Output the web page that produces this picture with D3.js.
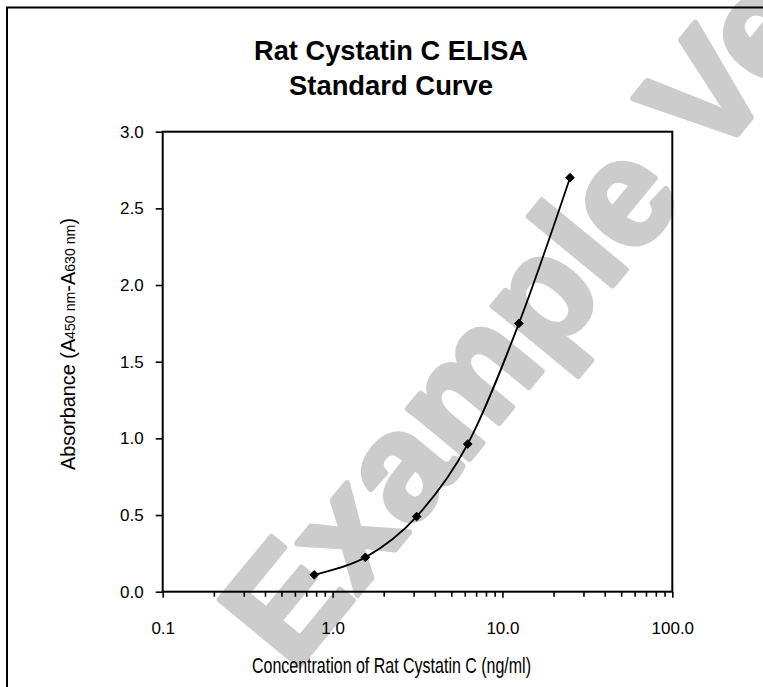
<!DOCTYPE html>
<html>
<head>
<meta charset="utf-8">
<script src="https://cdn.jsdelivr.net/npm/d3@7"></script>
<style>
  body { margin: 0; background: #fff; }
  text { font-family: "Liberation Sans", Arial, sans-serif; fill: #000; }
</style>
</head>
<body>
<div id="chart"></div>
<script>
//data
let concentrations = [0.78, 1.56, 3.125, 6.25, 12.5, 25];
let absorbances = [0.11, 0.224, 0.49, 0.963, 1.75, 2.70];

//tick values for both axes
let xMajorTicks = [0.1, 1, 10, 100];
let xMinorTicks = [0.2, 0.3, 0.4, 0.5, 0.6, 0.7, 0.8, 0.9,
                   2, 3, 4, 5, 6, 7, 8, 9,
                   20, 30, 40, 50, 60, 70, 80, 90];
let yTicks = [0, 0.5, 1, 1.5, 2, 2.5, 3];

let titleLines = ['Rat Cystatin C ELISA', 'Standard Curve'];
let watermarkText = 'Example Version';

//size of the page and the plot box
let width = 763;
let height = 687;
let plot = { left: 162.7, right: 672.3, top: 131.7, bottom: 591.7 };

let svg = d3
  .select('#chart')
  .append('svg')
  .attr('width', width)
  .attr('height', height);

//big grey watermark sits behind everything else
//the stroke makes the letters heavier, like the original
svg.append('text')
  .attr('transform', 'translate(293,673) rotate(-50.5)')
  .style('font-size', '150px')
  .style('font-weight', 'bold')
  .style('fill', '#cccccc')
  .style('stroke', '#cccccc')
  .style('stroke-width', 6)
  .style('stroke-linejoin', 'round')
  .text(watermarkText);

//outer frame, runs off the right and bottom edge like the original
svg.append('rect')
  .attr('x', 7)
  .attr('y', 7.5)
  .attr('width', 800)
  .attr('height', 800)
  .attr('fill', 'none')
  .attr('stroke', '#000')
  .attr('stroke-width', 2);

//scales
let x = d3.scaleLog().domain([0.1, 100]).range([plot.left, plot.right]);
let y = d3.scaleLinear().domain([0, 3]).range([plot.bottom, plot.top]);

//title
svg.append('g')
  .selectAll('text')
  .data(titleLines)
  .join('text')
  .attr('x', 391)
  .attr('y', (d, i) => 59.5 + i * 35.5)
  .attr('text-anchor', 'middle')
  .attr('textLength', (d, i) => (i === 0 ? 274 : 204))
  .attr('lengthAdjust', 'spacingAndGlyphs')
  .style('font-size', '28px')
  .style('font-weight', 'bold')
  .text(d => d);

//Y AXIS================================================
let yAxis = svg.append('g')
  .attr('transform', `translate(${plot.left},0)`)
  .call(d3.axisLeft(y).tickValues(yTicks).tickFormat(d3.format('.1f')).tickSize(7).tickPadding(12).tickSizeOuter(0));
yAxis.select('.domain').remove();
yAxis.selectAll('line').attr('stroke-width', 1.6);
yAxis.selectAll('text').style('font-size', '17px').attr('font-family', null);

//X AXIS================================================
let xMinor = svg.append('g')
  .attr('transform', `translate(0,${plot.bottom})`)
  .call(d3.axisBottom(x).tickValues(xMinorTicks).tickFormat('').tickSize(5).tickSizeOuter(0));
xMinor.select('.domain').remove();
xMinor.selectAll('line').attr('stroke-width', 1.6);

let xAxis = svg.append('g')
  .attr('transform', `translate(0,${plot.bottom})`)
  .call(d3.axisBottom(x).tickValues(xMajorTicks).tickFormat(d3.format('.1f')).tickSize(6).tickPadding(24).tickSizeOuter(0));
xAxis.select('.domain').remove();
xAxis.selectAll('line').attr('stroke-width', 1.6);
xAxis.selectAll('text').style('font-size', '17px').attr('font-family', null);

//plot area box
svg.append('rect')
  .attr('x', plot.left)
  .attr('y', plot.top)
  .attr('width', plot.right - plot.left)
  .attr('height', plot.bottom - plot.top)
  .attr('fill', 'none')
  .attr('stroke', '#000')
  .attr('stroke-width', 2);

//axis labels
svg.append('text')
  .attr('x', 391.5)
  .attr('y', 673)
  .attr('text-anchor', 'middle')
  .attr('textLength', 279)
  .attr('lengthAdjust', 'spacingAndGlyphs')
  .style('font-size', '22px')
  .text('Concentration of Rat Cystatin C (ng/ml)');

let yLabel = svg.append('text')
  .attr('transform', 'translate(75,344) rotate(-90)')
  .attr('text-anchor', 'middle')
  .attr('textLength', 252)
  .attr('lengthAdjust', 'spacingAndGlyphs')
  .style('font-size', '21px');
yLabel.append('tspan').text('Absorbance (A');
yLabel.append('tspan').style('font-size', '15px').text('450 nm');
yLabel.append('tspan').text('-A');
yLabel.append('tspan').style('font-size', '15px').text('630 nm');
yLabel.append('tspan').text(')');

//CURVE================================================
let points = concentrations.map((c, i) => [c, absorbances[i]]);

let line = d3.line()
  .x(d => x(d[0]))
  .y(d => y(d[1]))
  .curve(d3.curveCatmullRom.alpha(0));

svg.append('path')
  .datum(points)
  .attr('d', line)
  .attr('fill', 'none')
  .attr('stroke', '#000')
  .attr('stroke-width', 1.8);

//diamond markers
svg.append('g')
  .selectAll('path')
  .data(points)
  .join('path')
  .attr('transform', d => `translate(${x(d[0])},${y(d[1])})`)
  .attr('d', d3.symbol().type(d3.symbolDiamond2).size(48))
  .attr('fill', '#000')
  .attr('stroke', '#000')
  .attr('stroke-width', 1);
</script>
</body>
</html>
